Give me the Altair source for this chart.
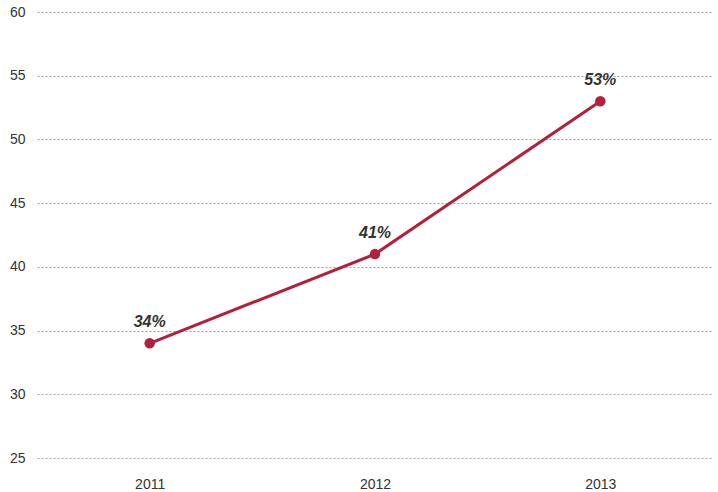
import altair as alt
import pandas as pd

years = ["2011", "2012", "2013"]
values = [34, 41, 53]
labels = ["34%", "41%", "53%"]

df = pd.DataFrame({"year": years, "value": values, "label": labels})

x = alt.X("year:N", title=None,
          scale=alt.Scale(type="point", padding=0.5),
          axis=alt.Axis(labelAngle=0, ticks=False, domain=False, grid=False,
                        labelPadding=19, labelFontSize=14, labelColor="#333333",
                        labelFont="Liberation Sans"))
y = alt.Y("value:Q", title=None,
          scale=alt.Scale(domain=[25, 60], nice=False, zero=False),
          axis=alt.Axis(values=[25, 30, 35, 40, 45, 50, 55, 60], ticks=False, domain=False,
                        grid=True, gridColor="#a0a0a0", gridDash=[2, 2], gridWidth=1,
                        labelPadding=12, labelFontSize=14, labelColor="#333333",
                        labelFont="Liberation Sans"))

line = alt.Chart(df).mark_line(color="#b3203c", strokeWidth=3).encode(x=x, y=y)
pts = alt.Chart(df).mark_circle(color="#b3203c", size=110, opacity=1).encode(x=x, y=y)
txt = alt.Chart(df).mark_text(dy=-21, fontSize=16, fontWeight="bold", fontStyle="italic",
                              color="#333333", font="Liberation Sans").encode(x=x, y=y, text="label:N")

chart = (line + pts + txt).properties(
    width=676, height=446,
    background="white",
    autosize=alt.AutoSizeParams(type="none"),
    padding={"left": 37, "top": 12, "right": 5, "bottom": 34},
).configure_view(strokeWidth=0, stroke=None)

chart.save("out.html", embed_options={"renderer": "svg", "actions": False})
